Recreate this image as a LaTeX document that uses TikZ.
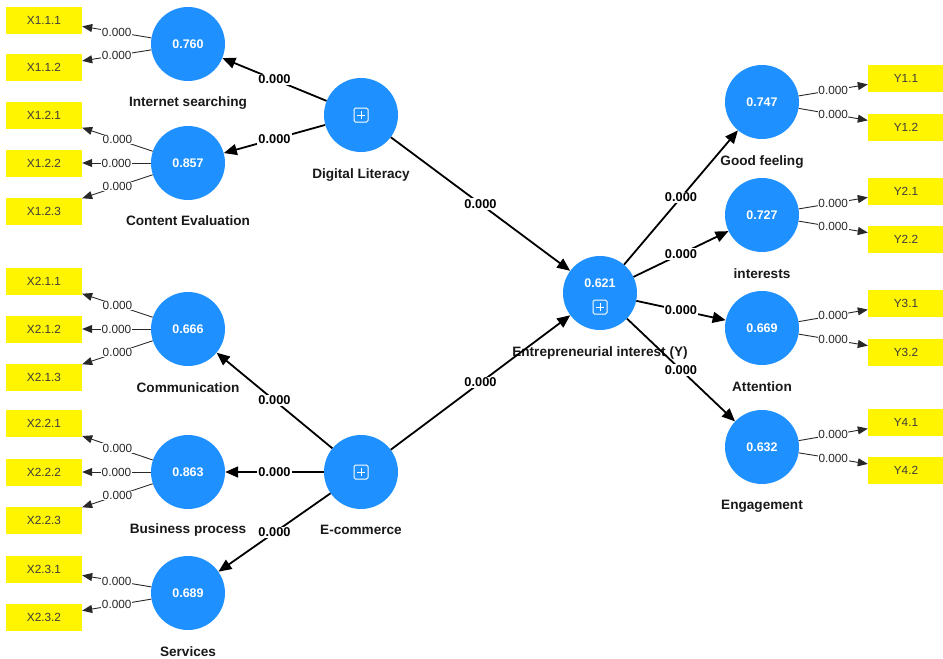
\documentclass[tikz,border=0pt]{standalone}
\usepackage{fontspec}
\setmainfont{Liberation Sans}
\usetikzlibrary{arrows.meta}
\definecolor{lvblue}{RGB}{30,144,255}
\definecolor{indyellow}{RGB}{255,245,0}
\definecolor{boxtext}{RGB}{60,60,60}
\definecolor{loadgray}{RGB}{40,40,40}
\begin{document}
\begin{tikzpicture}[x=1pt,y=-1pt,
  lv/.style={circle, fill=lvblue, minimum size=74pt, inner sep=0pt, text=white, font=\bfseries\fontsize{12.5}{14}\selectfont},
  valtext/.style={text=white, font=\bfseries\fontsize{12.5}{14}\selectfont, inner sep=0pt},
  ind/.style={fill=indyellow, minimum width=76pt, minimum height=27pt, inner sep=0pt, text=boxtext, font=\fontsize{11.8}{13}\selectfont},
  lvname/.style={font=\bfseries\fontsize{13.6}{15}\selectfont, text=black!90, inner sep=0pt},
  strpath/.style={line width=1.8pt, -{Triangle[length=13pt,width=11pt]}},
  loadpath/.style={line width=0.9pt, draw=loadgray, -{Triangle[length=10pt,width=8pt]}},
  plab/.style={fill=white, inner sep=1pt, font=\bfseries\fontsize{12.8}{14}\selectfont},
  llab/.style={fill=white, inner sep=0.5pt, font=\fontsize{11.8}{13}\selectfont, text=loadgray},
  plusicon/.pic={\draw[white, line width=1pt, rounded corners=1.5pt] (-7,-7) rectangle (7,7);
                 \draw[white, line width=1pt] (-4,0) -- (4,0) (0,-4) -- (0,4);}
]
\fill[white] (0,0) rectangle (943,659);
\useasboundingbox (0,0) rectangle (943,659);

% latent variables
\node[lv] (is)   at (188,44)  {0.760};
\node[lv] (ce)   at (188,163) {0.857};
\node[lv] (dl)   at (361,115) {};
\node[lv] (comm) at (188,329) {0.666};
\node[lv] (bp)   at (188,472) {0.863};
\node[lv] (serv) at (188,593) {0.689};
\node[lv] (ec)   at (361,472) {};
\node[lv] (ei)   at (600,293) {};
\node[lv] (gf)   at (762,102) {0.747};
\node[lv] (int)  at (762,215) {0.727};
\node[lv] (att)  at (762,328) {0.669};
\node[lv] (eng)  at (762,447) {0.632};

\pic at (361,115) {plusicon};
\pic at (361,472) {plusicon};
\node[valtext] (eival) at (600,283) {0.621};
\pic at (600,307) {plusicon};

% names
\node[lvname] (nis)   at (188,103) {Internet searching};
\node[lvname] (nce)   at (188,221) {Content Evaluation};
\node[lvname] (ndl)   at (361,175) {Digital Literacy};
\node[lvname] (ncomm) at (188,388) {Communication};
\node[lvname] (nbp)   at (188,530) {Business process};
\node[lvname] (nserv) at (188,652) {Services};
\node[lvname] (nec)   at (361,530) {E-commerce};
\node[lvname] (nei)   at (600,353) {Entrepreneurial interest (Y)};
\node[lvname] (ngf)   at (762,162) {Good feeling};
\node[lvname] (nint)  at (762,274) {interests};
\node[lvname] (natt)  at (762,387) {Attention};
\node[lvname] (neng)  at (762,506) {Engagement};

% indicators left
\node[ind] (x111) at (44,20)  {X1.1.1};
\node[ind] (x112) at (44,67)  {X1.1.2};
\node[ind] (x121) at (44,115) {X1.2.1};
\node[ind] (x122) at (44,163) {X1.2.2};
\node[ind] (x123) at (44,211) {X1.2.3};
\node[ind] (x211) at (44,281) {X2.1.1};
\node[ind] (x212) at (44,329) {X2.1.2};
\node[ind] (x213) at (44,377) {X2.1.3};
\node[ind] (x221) at (44,423) {X2.2.1};
\node[ind] (x222) at (44,472) {X2.2.2};
\node[ind] (x223) at (44,520) {X2.2.3};
\node[ind] (x231) at (44,569) {X2.3.1};
\node[ind] (x232) at (44,617) {X2.3.2};
% indicators right
\node[ind] (y11) at (906,78)  {Y1.1};
\node[ind] (y12) at (906,127) {Y1.2};
\node[ind] (y21) at (906,191) {Y2.1};
\node[ind] (y22) at (906,239) {Y2.2};
\node[ind] (y31) at (906,303) {Y3.1};
\node[ind] (y32) at (906,352) {Y3.2};
\node[ind] (y41) at (906,422) {Y4.1};
\node[ind] (y42) at (906,470) {Y4.2};

% loadings
\foreach \a/\b in {is/x111, is/x112, ce/x121, ce/x122, ce/x123,
                   comm/x211, comm/x212, comm/x213, bp/x221, bp/x222, bp/x223,
                   serv/x231, serv/x232,
                   gf/y11, gf/y12, int/y21, int/y22, att/y31, att/y32, eng/y41, eng/y42}
  \draw[loadpath] (\a) -- node[llab] {0.000} (\b);

% structural paths
\foreach \a/\b in {dl/is, dl/ce, dl/ei, ec/comm, ec/bp, ec/serv, ec/ei,
                   ei/gf, ei/int, ei/att, ei/eng}
  \draw[strpath] (\a) -- node[plab] {0.000} (\b);
\end{tikzpicture}
\end{document}
